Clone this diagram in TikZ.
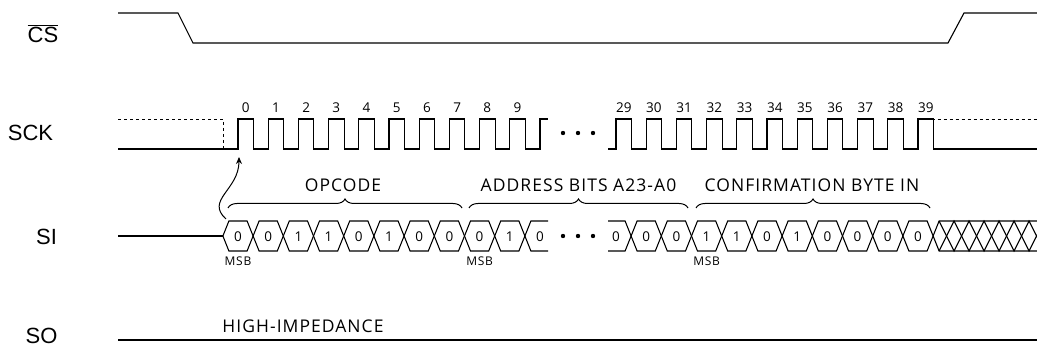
\documentclass[tikz,border=0pt]{standalone}
\usepackage{fontspec}
\setmainfont{Liberation Sans}
\newfontfamily\lblfont[LetterSpace=6]{Open Sans}
\newfontfamily\numfont{Open Sans}
\usetikzlibrary{arrows.meta}
\usetikzlibrary{decorations.pathreplacing}
\tikzset{sig/.style = {line width=1.1pt},
         signame/.style = {inner sep=0pt, font=\fontsize{22}{22}\selectfont},
         clknum/.style = {inner sep=0pt, font=\numfont\fontsize{13.5}{13.5}\selectfont},
         bitnum/.style = {inner sep=0pt, font=\numfont\fontsize{13.5}{13.5}\selectfont},
         msbtxt/.style = {inner sep=0pt, font=\lblfont\fontsize{12}{12}\selectfont},
         fieldtxt/.style = {inner sep=0pt, font=\lblfont\fontsize{17.5}{17.5}\selectfont},
         fieldbrace/.style = {line width=1pt, decorate,
                              decoration={brace, amplitude=9pt}}}
\newcommand{\bitcell}[2]{% centre, value
  \draw[sig] ({#1-15.1},236) -- ({#1-9.1},221) -- ({#1+9.1},221) -- ({#1+15.1},236)
             -- ({#1+9.1},251) -- ({#1-9.1},251) -- cycle;
  \node[bitnum] at (#1,237) {#2};}

\begin{document}
\begin{tikzpicture}[x=1pt, y=-1pt]
    \useasboundingbox (0,0) rectangle (1037,347);

    % signal names
    \node[signame] (cs) at (43,33.5) {$\overline{\hbox{CS}}$};
    \node[signame] (sck) at (30.5,132.5) {SCK};
    \node[signame] (si) at (46.5,236.5) {SI};
    \node[signame, anchor=base] (so) at (41.5,344) {SO};

    % CS
    \draw[sig] (118,13) -- (178,13) -- (193,43) -- (948,43) -- (964,13) -- (1037,13);

    % SCK
    \draw[sig, dashed, line width=0.8pt] (118,119) -- (223,119) -- (223,149);
    \draw[sig] (118,149) foreach \n in {0,...,9} {
        -- ({238+30.2*\n},149) -- ++(0,-30) -- ++(15.5,0) -- ++(0,30)}
        -- (540,149) -- (540,119) -- (548,119);
    \draw[sig] (608,149) foreach \k in {0,...,10} {
        -- ({616+30.2*\k},149) -- ++(0,-30) -- ++(15.5,0) -- ++(0,30)}
        -- (1037,149);
    \draw[sig, dashed, line width=0.8pt] (931.5,119) -- (1037,119);
    \foreach \n in {0,...,9}
        \node[clknum] at ({245.75+30.2*\n},107.5) {\n};
    \foreach \k [evaluate=\k as \lab using int(\k+29)] in {0,...,10}
        \node[clknum] at ({623.75+30.2*\k},107.5) {\lab};
    \foreach \x in {563,578,593} {
        \fill (\x,133) circle (2.2);
        \fill (\x,236) circle (2.2);
    }

    % SI
    \draw[sig] (118,236) -- (222.9,236);
    \foreach \b [count=\i from 0] in {0,0,1,1,0,1,0,0,0,1} {
        \bitcell{238+30.2*\i}{\b}
    }
    \draw[sig] (548,221) -- (530.9,221) -- (524.9,236) -- (530.9,251) -- (548,251);
    \node[bitnum] at (540,237) {0};
    \draw[sig] (608,221) -- (625.1,221) -- (631.1,236) -- (625.1,251) -- (608,251);
    \node[bitnum] at (616,237) {0};
    \foreach \b [count=\i from 1] in {0,0,1,1,0,1,0,0,0,0} {
        \bitcell{616+30.2*\i}{\b}
    }
    \begin{scope}
        \clip (933,210) rectangle (1037,262);
        \draw[sig] (933.1,236) -- (939.1,221) -- (1040,221);
        \draw[sig] (933.1,236) -- (939.1,251) -- (1040,251);
        \draw[sig] (939.1,221) foreach \z in {1,...,4} {-- ++(15,30) -- ++(15,-30)};
        \draw[sig] (939.1,251) foreach \z in {1,...,4} {-- ++(15,-30) -- ++(15,30)};
    \end{scope}
    \node[msbtxt] at (238,261) {MSB};
    \node[msbtxt] at (479.6,261) {MSB};
    \node[msbtxt] at (706.6,261) {MSB};

    % fields
    \draw[fieldbrace] (228,208) -- (462,208);
    \draw[fieldbrace] (469,208) -- (688,208);
    \draw[fieldbrace] (696,208) -- (930,208);
    \node[fieldtxt] (op) at (343,185) {OPCODE};
    \node[fieldtxt] (addr) at (578.5,185) {ADDRESS BITS A23-A0};
    \node[fieldtxt] (conf) at (812,185) {CONFIRMATION BYTE IN};

    % first bit clocked in on the rising edge
    \coordinate (msbtop) at (226,219);
    \coordinate (edge0) at (239,157);
    \draw[line width=1pt, -{Stealth[length=7pt, width=6pt]}] (msbtop)
        .. controls (205,200) and (239,190) .. (edge0);

    % SO
    \draw[sig] (118,340) -- (1037,340);
    \node[fieldtxt] (hiz) at (303,326.5) {HIGH-IMPEDANCE};
\end{tikzpicture}
\end{document}
